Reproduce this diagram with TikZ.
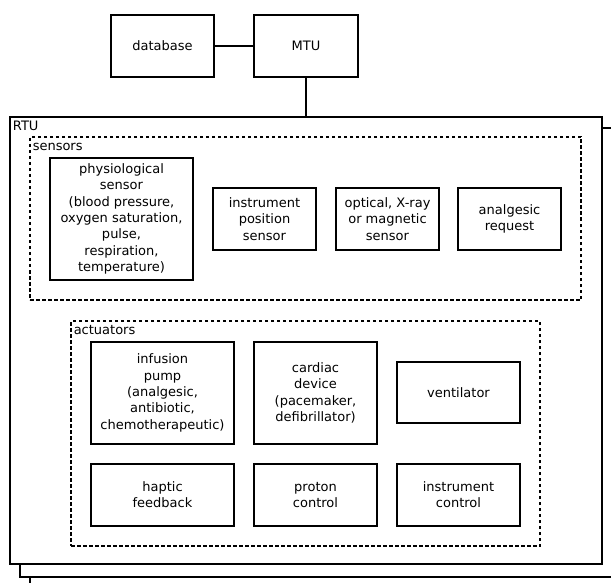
\documentclass[tikz,border=0pt]{standalone}
\usepackage{fontspec}
\setmainfont{DejaVu Sans}
\begin{document}
\begin{tikzpicture}[x=1pt,y=-1pt,
  every node/.style={font=\fontsize{13}{16.3}\selectfont},
  unit/.style={draw, line width=1.8pt, rectangle, align=center, inner sep=0pt},
  frame/.style={draw, line width=1.5pt, fill=white},
  group/.style={draw, line width=1.9pt, dash pattern=on 3.5pt off 2.5pt},
  tag/.style={anchor=north west, inner xsep=3.5pt, inner ysep=4pt, text height=10pt, text depth=3pt},
  link/.style={line width=1.8pt}]
\useasboundingbox (0,0) rectangle (611,583);

% database and master terminal unit
\node[unit, minimum width=103pt, minimum height=62pt] (db) at (162.5,46) {database};
\node[unit, minimum width=104pt, minimum height=62pt] (mtu) at (306,46) {MTU};
\draw[link] (db) -- (mtu);

% stack of remote terminal units
\draw[frame] (30,139) rectangle (622,590);
\draw[frame] (20,128) rectangle (612,577);
\node[frame, minimum width=592pt, minimum height=447pt, inner sep=0pt] (rtu) at (306,340.5) {};
\node[tag] at (rtu.north west) {RTU};
\draw[link] (mtu.south) -- (rtu.north);

% sensors
\node[group, minimum width=551pt, minimum height=163pt, inner sep=0pt] (sens) at (305.5,218.5) {};
\node[tag] at (sens.north west) {sensors};
\node[unit, minimum width=143pt, minimum height=122pt] (phys) at (121.5,219)
  {physiological\\sensor\\(blood pressure,\\oxygen saturation,\\pulse,\\respiration,\\temperature)};
\node[unit, minimum width=103pt, minimum height=62pt] (ipos) at (264.5,219) {instrument\\position\\sensor};
\node[unit, minimum width=103pt, minimum height=62pt] (opt) at (387.5,219) {optical, X-ray\\or magnetic\\sensor};
\node[unit, minimum width=103pt, minimum height=62pt] (anreq) at (509.5,219) {analgesic\\request};

% actuators
\node[group, minimum width=469pt, minimum height=225pt, inner sep=0pt] (act) at (305.5,433.5) {};
\node[tag] at (act.north west) {actuators};
\node[unit, minimum width=143pt, minimum height=102pt] (pump) at (162.5,393)
  {infusion\\pump\\(analgesic,\\antibiotic,\\chemotherapeutic)};
\node[unit, minimum width=123pt, minimum height=102pt] (card) at (315.5,393)
  {cardiac\\device\\(pacemaker,\\defibrillator)};
\node[unit, minimum width=123pt, minimum height=61pt] (vent) at (458.5,392.5) {ventilator};
\node[unit, minimum width=143pt, minimum height=62pt] (hapt) at (162.5,495) {haptic\\feedback};
\node[unit, minimum width=123pt, minimum height=62pt] (prot) at (315.5,495) {proton\\control};
\node[unit, minimum width=123pt, minimum height=62pt] (ictl) at (458.5,495) {instrument\\control};
\end{tikzpicture}
\end{document}
